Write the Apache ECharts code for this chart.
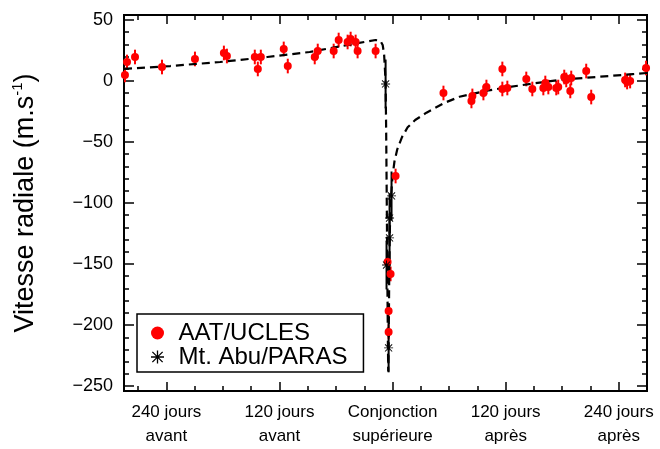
<!DOCTYPE html>
<html>
<head>
<meta charset="utf-8">
<script src="https://cdn.jsdelivr.net/npm/echarts@6/dist/echarts.min.js"></script>
<style>
  html, body { margin: 0; padding: 0; background: #fff; }
  #chart { width: 660px; height: 449px; }
</style>
</head>
<body>
<div id="chart"></div>
<script>
  // AAT/UCLES (jours par rapport à la conjonction, vitesse radiale m/s)
  const aatDays = [-284, -281.8, -273.3, -244.7, -209.7, -179.0, -175.8, -146.2, -143.0, -139.8,
    -115.5, -111.2, -82.6, -79.4, -62.5, -57.2, -47.7, -44.5, -39.2, -37.1, -18.0,
    3.2, -5.3, -2.1, -4.2, -4.2,
    54.0, 83.7, 84.7, 96.4, 99.6, 116.5, 116.5, 121.8, 141.9, 148.3, 160.0, 162.1, 165.3,
    173.7, 175.8, 182.2, 184.3, 188.6, 189.6, 205.5, 210.8, 246.8, 248.9, 252.1, 269.0]
  const aatRv = [4.9, 15.5, 19.6, 11.4, 18.0, 22.9, 20.4, 19.6, 9.8, 19.6,
    26.2, 12.2, 19.6, 24.5, 24.5, 33.5, 31.9, 34.3, 31.9, 24.5, 24.5,
    -77.9, -148.3, -158.1, -188.4, -205.6,
    -9.9, -16.4, -12.3, -9.9, -5.0, 9.8, -6.6, -5.8, 1.6, -6.6, -5.8, -1.7, -5.0,
    -5.8, -5.0, 3.2, 0.8, -8.2, 2.4, 8.1, -13.2, 0.8, -0.9, -0.1, 10.6]
  const aatErr = 6

  // Mt. Abu/PARAS
  const parasDays = [-7.4, -1.1, -3.2, -3.2, -6.4, -4.2]
  const parasRv = [-2.5, -94.2, -112.3, -128.6, -150.8, -218.7]
  const parasErr = 20

  // modèle orbital
  const modelDays = [-285, -236, -183, -133, -88, -42, -30, -18, -13, -10.5, -9, -8, -7.4, -6.8,
    -6.2, -5.6, -5.0, -4.6, -4.2, -3.6, -3.0, -2.0, -1.0, 0, 2, 5, 10, 16, 24, 36, 55, 71,
    100, 124, 150, 177, 205, 230, 255, 270]
  const modelRv = [9.8, 12.2, 15.5, 19.6, 23.7, 30.2, 31.9, 33.5, 33.0, 29.5, 22, 8, -2, -40,
    -95, -155, -210, -238, -222, -165, -125, -100, -88, -78, -66, -56, -46, -38, -32, -26, -18, -13,
    -8, -5, -2, 0.8, 2.6, 4.0, 5.6, 6.5]

  const xMajor = [-240, -120, 0, 120, 240]
  const xLabels = ['240 jours\navant', '120 jours\navant', 'Conjonction\nsupérieure', '120 jours\naprès', '240 jours\naprès']
  const xMinor = [-270, -210, -180, -150, -90, -60, -30, 30, 60, 90, 150, 180, 210, 270]
  const yMajor = [50, 0, -50, -100, -150, -200, -250]
  const yMinor = [40, 30, 20, 10, -10, -20, -30, -40, -60, -70, -80, -90, -110, -120, -130, -140,
    -160, -170, -180, -190, -210, -220, -230, -240]

  const font = 'Liberation Sans, Arial, sans-serif'
  const starPath = 'path://M45 0L55 0L55 100L45 100Z M0 45L100 45L100 55L0 55Z M14 7L93 86L86 93L7 14Z M86 7L93 14L14 93L7 86Z'

  const xRange = { min: -285, max: 270 }
  const yRange = { min: -254, max: 54 }
  const lineBlack = { color: '#000', width: 2 }

  const makeX = (position, ticks, len, withLabels) => ({
    type: 'value', position, ...xRange,
    axisLine: { show: true, onZero: false, lineStyle: lineBlack },
    axisTick: { show: true, inside: true, length: len, customValues: ticks, lineStyle: { color: '#000', width: 1.5 } },
    axisLabel: withLabels ? {
      show: true, customValues: xMajor, margin: 9, color: '#000',
      fontFamily: font, fontSize: 17, lineHeight: 24,
      formatter: (v) => xLabels[xMajor.indexOf(v)]
    } : { show: false },
    splitLine: { show: false }
  })

  const makeY = (position, ticks, len, withLabels) => ({
    type: 'value', position, ...yRange,
    axisLine: { show: true, onZero: false, lineStyle: lineBlack },
    axisTick: { show: true, inside: true, length: len, customValues: ticks, lineStyle: { color: '#000', width: 1.5 } },
    axisLabel: withLabels ? {
      show: true, customValues: yMajor, margin: 11, color: '#000',
      fontFamily: font, fontSize: 18,
      formatter: (v) => String(v).replace('-', '\u2212')
    } : { show: false },
    splitLine: { show: false }
  })

  const errorBars = (days, rv, err, color) => ({
    type: 'custom',
    xAxisIndex: 0,
    yAxisIndex: 0,
    silent: true,
    z: 2,
    data: days.map((d, i) => [d, rv[i], err]),
    encode: { x: 0, y: 1 },
    renderItem: (params, api) => {
      const lo = api.coord([api.value(0), api.value(1) - api.value(2)])
      const hi = api.coord([api.value(0), api.value(1) + api.value(2)])
      return {
        type: 'line',
        shape: { x1: lo[0], y1: lo[1], x2: hi[0], y2: hi[1] },
        style: { stroke: color, lineWidth: 2 }
      }
    }
  })

  const chart = echarts.init(document.getElementById('chart'), null, { renderer: 'canvas' })

  const yName = makeY('left', yMajor, 10, true)
  yName.name = '{a|Vitesse radiale (m.s}{b|-1}{a|)}'
  yName.nameLocation = 'middle'
  yName.nameGap = 83
  yName.nameTextStyle = {
    rich: {
      a: { fontFamily: font, fontSize: 27, color: '#000', lineHeight: 31 },
      b: { fontFamily: font, fontSize: 15, color: '#000', lineHeight: 31, verticalAlign: 'top' }
    }
  }

  chart.setOption({
    animation: false,
    backgroundColor: '#fff',
    grid: { left: 124, right: 13, top: 15, bottom: 58, outerBoundsMode: 'none' },
    xAxis: [
      makeX('bottom', xMajor, 9, true),
      makeX('bottom', xMinor, 5, false),
      makeX('top', xMajor, 9, false),
      makeX('top', xMinor, 5, false)
    ],
    yAxis: [
      yName,
      makeY('left', yMinor, 5, false),
      makeY('right', yMajor, 10, false),
      makeY('right', yMinor, 5, false)
    ],
    legend: {
      left: 137,
      top: 314,
      orient: 'vertical',
      backgroundColor: '#fff',
      borderColor: '#000',
      borderWidth: 1.5,
      borderRadius: 0,
      padding: [7, 16, 3, 14],
      itemGap: 0,
      itemWidth: 14,
      itemHeight: 13,
      selectedMode: false,
      textStyle: { fontFamily: font, fontSize: 24, color: '#000', lineHeight: 22, padding: [0, 0, 0, 9] },
      data: [
        { name: 'AAT/UCLES', icon: 'circle', itemStyle: { color: '#ff0000' } },
        { name: 'Mt. Abu/PARAS', icon: starPath, itemStyle: { color: '#000' } }
      ]
    },
    series: [
      {
        name: 'modèle',
        type: 'line',
        xAxisIndex: 0,
        yAxisIndex: 0,
        showSymbol: false,
        silent: true,
        z: 3,
        data: modelDays.map((d, i) => [d, modelRv[i]]),
        lineStyle: { color: '#000', width: 2.2, type: [8, 5] }
      },
      errorBars(aatDays, aatRv, aatErr, '#ff0000'),
      errorBars(parasDays, parasRv, parasErr, '#000'),
      {
        name: 'AAT/UCLES',
        type: 'scatter',
        xAxisIndex: 0,
        yAxisIndex: 0,
        symbol: 'circle',
        symbolSize: 8,
        z: 4,
        itemStyle: { color: '#ff0000', opacity: 1 },
        data: aatDays.map((d, i) => [d, aatRv[i]])
      },
      {
        name: 'Mt. Abu/PARAS',
        type: 'scatter',
        xAxisIndex: 0,
        yAxisIndex: 0,
        symbol: starPath,
        symbolSize: 9,
        z: 5,
        itemStyle: { color: '#000', opacity: 1 },
        data: parasDays.map((d, i) => [d, parasRv[i]])
      }
    ]
  })
</script>
</body>
</html>
